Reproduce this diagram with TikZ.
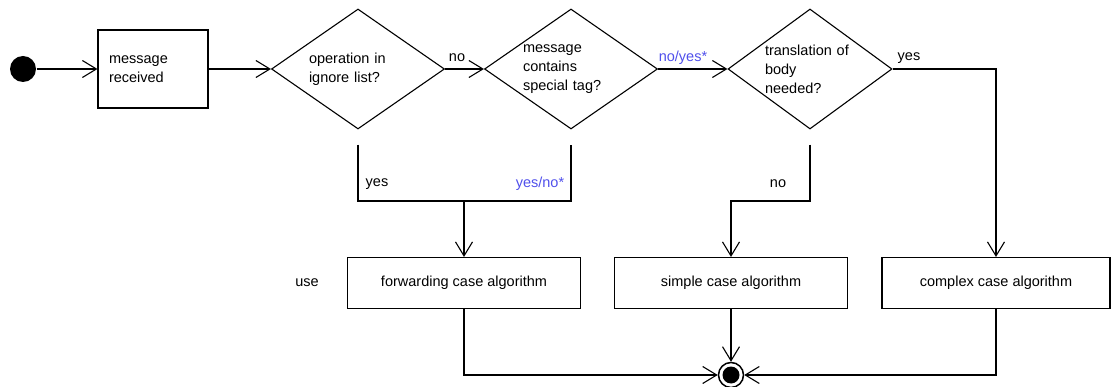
\documentclass[tikz,border=0pt]{standalone}
\usepackage{fontspec}
\setmainfont{Liberation Sans}
\usetikzlibrary{%
  arrows.meta,%
  shapes,% wg. diamond
  calc%
}
\definecolor{guardblue}{RGB}{80,80,235}

\begin{document}
\begin{tikzpicture}
[x=1pt, y=-1pt, line width=1.1pt, >={Straight Barb[length=14pt,width=17pt]},
font=\fontsize{14.5}{19}\selectfont,
initial/.style={circle, fill=black, inner sep=0pt, minimum size=26pt},
final/.style={circle, draw, fill=white, line width=1.5pt, inner sep=0pt, minimum size=25pt,
  path picture={\fill[black] (path picture bounding box.center) circle (8.5pt);}},
action/.style={rectangle, draw, inner sep=11pt, minimum height=78pt, text width=88pt, align=left},
choice/.style={diamond, draw, inner sep=0pt, minimum width=173pt, minimum height=120pt, aspect=1.44, align=left},
algo/.style={rectangle, draw, minimum width=233pt, minimum height=51pt},
guard/.style={inner sep=0pt},
blueguard/.style={guard, text=guardblue}]

\useasboundingbox (0,0) rectangle (1111,387);

\node[initial] (start) at (23,69) {};
\node[action] (received) at (153,69) {message\\received};

\node[choice, text width=98pt] (ignore) at (358,69) {operation in\\ignore list?};
\node[choice, text width=96pt] (tag) at (571,69) {message\\contains\\special tag?};
\node[choice, text width=90pt, minimum width=164pt, aspect=1.37] (body) at (810,69) {translation of\\body\\needed?};

\node[algo] (forward) at (464,283) {forwarding case algorithm};
\node[algo] (simple) at (731,283) {simple case algorithm};
\node[algo, minimum width=228pt] (complex) at (996,283) {complex case algorithm};
\node[final] (stop) at (731,375) {};

% guards
\node[guard] (no1) at (457,58) {no};
\node[blueguard] (noyes) at (683,58) {no/yes*};
\node[guard] (yes1) at (909,58) {yes};
\node[guard] (yes2) at (377,184) {yes};
\node[blueguard] (yesno) at (540,184) {yes/no*};
\node[guard] (no2) at (778,184) {no};
\node[guard] (use) at (307,283) {use};

\coordinate (join1) at (464,201);
\coordinate (join2) at (731,201);

\draw[->] (start) -- (received);
\draw[->] (received) -- (ignore);
\draw[->] (ignore) -- (tag);
\draw[->] (tag) -- (body);
\draw[->] (body.east) -| (complex.north);

\draw ([yshift=-15pt]ignore.south) |- (join1) -| ([yshift=-15pt]tag.south);
\draw[->] (join1) -- (forward);
\draw[->] ([yshift=-15pt]body.south) |- (join2) -- (simple);

\draw[->] (forward) |- (stop);
\draw[->] (simple) -- (stop);
\draw[->] (complex) |- (stop);

\end{tikzpicture}
\end{document}
